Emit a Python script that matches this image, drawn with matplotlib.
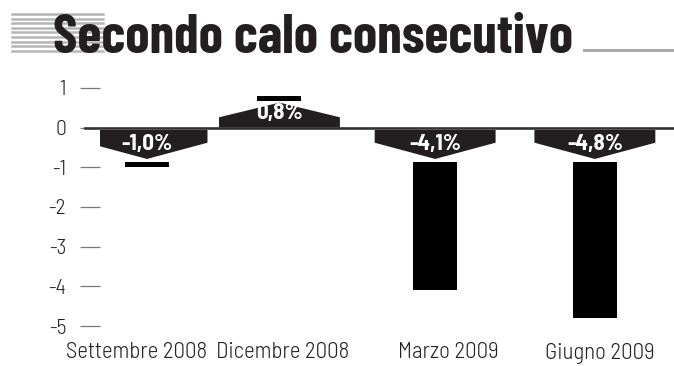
import numpy as np
import matplotlib.pyplot as plt
from matplotlib.patches import Polygon
from matplotlib.lines import Line2D

# data
periods = ['Settembre 2008', 'Dicembre 2008', 'Marzo 2009', 'Giugno 2009']
changes = [-1.0, 0.8, -4.1, -4.8]
labels = ['-1,0%', '0,8%', '-4,1%', '-4,8%']
yticks = [1, 0, -1, -2, -3, -4, -5]

# layout (bar centres and label centres in axis units, not evenly spaced in the original)
bar_x = [0.0, 0.887, 1.93, 3.0]
label_x = [-0.067, 0.905, 2.02, 3.03]

W, H = 674, 366
fig = plt.figure(figsize=(W / 100, H / 100), dpi=100)

title_font = ['Barlow Condensed', 'Liberation Sans Narrow', 'DejaVu Sans']
fonts = ['Barlow Semi Condensed', 'Barlow Condensed', 'DejaVu Sans']

# axes: left 100px, top ~80px, bottom 330px
ax = fig.add_axes([100 / W, (H - 330) / H, 574 / W, 250 / H])
ax.set_xlim(-0.315, 3.53)
ax.set_ylim(-5.1, 1.2)

# bars start below/above the arrow labels, which hide their first part
vals = np.array(changes)
start = np.where(vals < 0, -0.87, 0.68)
ax.bar(bar_x, vals - start, bottom=start, width=0.295, color='black', zorder=2)

# arrow-shaped value labels
hw = 0.405
for x, v, lab in zip(bar_x, changes, labels):
    if v < 0:
        pts = [(x - hw, -0.06), (x + hw, -0.06), (x + hw, -0.38),
               (x, -0.79), (x - hw, -0.38)]
        ty = -0.41
    else:
        pts = [(x - hw, 0.0), (x + hw, 0.0), (x + hw, 0.26),
               (x, 0.63), (x - hw, 0.26)]
        ty = 0.37
    ax.add_patch(Polygon(pts, closed=True, facecolor='#231f20',
                         edgecolor='none', zorder=3))
    ax.text(x, ty, lab, color='white', fontsize=16.5, fontweight='bold',
            family=fonts, ha='center', va='center', zorder=4)

# zero line
ax.axhline(0, xmin=-0.026, xmax=1, color='#333333', linewidth=1.9,
           clip_on=False, zorder=5)

for s in ax.spines.values():
    s.set_visible(False)
ax.set_yticks(yticks)
ax.set_yticklabels([str(t) for t in yticks], family=fonts, fontsize=15.5,
                   fontweight=300, color='#222222')
ax.tick_params(axis='y', length=14.4, width=0.9, color='#777777', pad=10)
ax.set_xticks(label_x)
ax.set_xticklabels(periods, family=fonts, fontsize=16.5, fontweight=300,
                   color='#222222')
ax.tick_params(axis='x', length=0, pad=9)

# title with striped block and rule
for i in range(9):
    y = 1 - (14 + i * 4.6) / H
    fig.add_artist(Line2D([12 / W, 103 / W], [y, y], color='#b5b5b5',
                          linewidth=1.8, transform=fig.transFigure))
fig.text(53 / W, 1 - 53 / H, 'Secondo calo consecutivo', family=title_font,
         fontweight='bold', fontsize=39.5, color='#231f20', ha='left',
         va='baseline')
fig.add_artist(Line2D([584 / W, 673 / W], [1 - 50 / H, 1 - 50 / H],
                      color='#aaaaaa', linewidth=2.2,
                      transform=fig.transFigure))

fig.savefig('out.png', dpi=100)
